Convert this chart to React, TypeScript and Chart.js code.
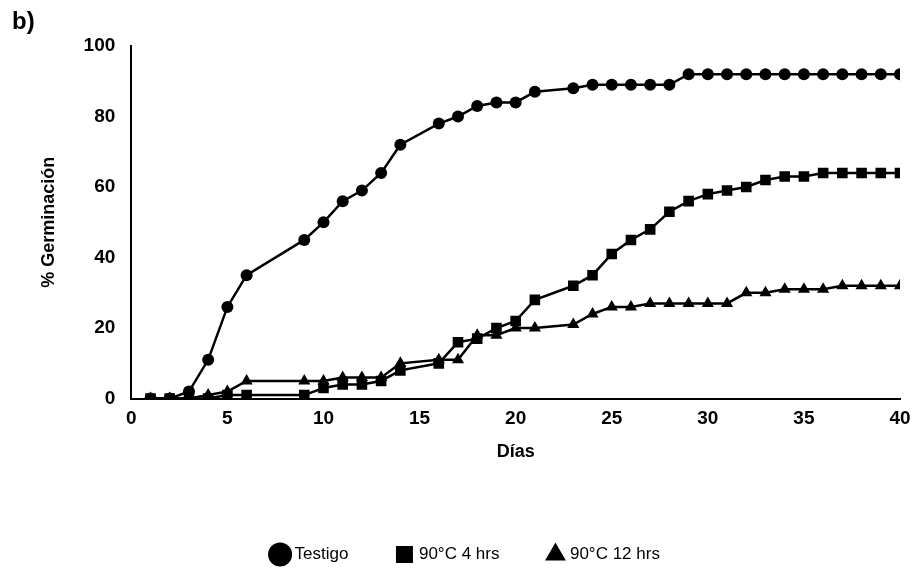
import { useEffect, useRef } from "react";
import { Chart, registerables } from "chart.js";

Chart.register(...registerables);

const dias = [1, 2, 3, 4, 5, 6, 9, 10, 11, 12, 13, 14, 16, 17, 18, 19, 20, 21, 23, 24, 25, 26, 27, 28, 29, 30, 31, 32, 33, 34, 35, 36, 37, 38, 39, 40];
const testigo = [0, 0, 2, 11, 26, 35, 45, 50, 56, 59, 64, 72, 78, 80, 83, 84, 84, 87, 88, 89, 89, 89, 89, 89, 92, 92, 92, 92, 92, 92, 92, 92, 92, 92, 92, 92];
const c90h4 = [0, 0, 0, 0, 1, 1, 1, 3, 4, 4, 5, 8, 10, 16, 17, 20, 22, 28, 32, 35, 41, 45, 48, 53, 56, 58, 59, 60, 62, 63, 63, 64, 64, 64, 64, 64];
const c90h12 = [0, 0, 0, 1, 2, 5, 5, 5, 6, 6, 6, 10, 11, 11, 18, 18, 20, 20, 21, 24, 26, 26, 27, 27, 27, 27, 27, 30, 30, 31, 31, 31, 32, 32, 32, 32];

const font = "'Liberation Sans', Arial, sans-serif";

const mk = (label: string, vals: number[], style: string, r: number) => ({
  label,
  data: dias.map((d, i) => ({ x: d, y: vals[i] })),
  borderColor: "#000",
  backgroundColor: "#000",
  borderWidth: 2.5,
  pointStyle: style,
  pointRadius: r,
  pointBorderWidth: 0,
  tension: 0,
});

const labelB = {
  id: "labelB",
  afterDraw(chart: Chart) {
    const ctx = chart.ctx;
    ctx.save();
    ctx.font = `bold 24px ${font}`;
    ctx.fillStyle = "#000";
    ctx.textBaseline = "top";
    ctx.fillText("b)", 12, 10);
    ctx.restore();
  },
};

export default function App() {
  const ref = useRef<HTMLCanvasElement | null>(null);
  useEffect(() => {
    if (!ref.current) return;
    const chart = new Chart(ref.current, {
      type: "line",
      data: {
        datasets: [
          mk("Testigo", testigo, "circle", 6),
          mk("90°C 4 hrs", c90h4, "rect", 7.5),
          mk("90°C 12 hrs", c90h12, "triangle", 7),
        ] as any,
      },
      options: {
        animation: false,
        responsive: false,
        layout: { padding: { left: 34, right: 18, top: 46, bottom: 0 } },
        plugins: {
          tooltip: { enabled: false },
          legend: {
            position: "bottom",
            labels: {
              usePointStyle: true,
              boxWidth: 12,
              color: "#000",
              font: { family: font, size: 17 },
              padding: 50,
            },
          },
        },
        scales: {
          x: {
            type: "linear",
            min: 0,
            max: 40,
            grid: { display: false, drawTicks: true, tickLength: 6, tickColor: "#000" },
            border: { color: "#000", width: 2 },
            ticks: { stepSize: 5, color: "#000", font: { family: font, size: 19, weight: "bold" } },
            title: { display: true, text: "Días", color: "#000", font: { family: font, size: 18, weight: "bold" }, padding: { top: 8, bottom: 33 } },
          },
          y: {
            min: 0,
            max: 100,
            grid: { display: false, drawTicks: true, tickLength: 6, tickColor: "#000" },
            border: { color: "#000", width: 2 },
            ticks: { stepSize: 20, color: "#000", font: { family: font, size: 19, weight: "bold" }, padding: 10 },
            title: { display: true, text: "% Germinación", color: "#000", font: { family: font, size: 18, weight: "bold" }, padding: { bottom: 14 } },
          },
        },
      },
      plugins: [labelB],
    });
    return () => chart.destroy();
  }, []);
  return (
    <div style={{ position: "absolute", left: 0, top: 0, background: "#fff" }}>
      <canvas ref={ref} width={918} height={573} />
    </div>
  );
}
